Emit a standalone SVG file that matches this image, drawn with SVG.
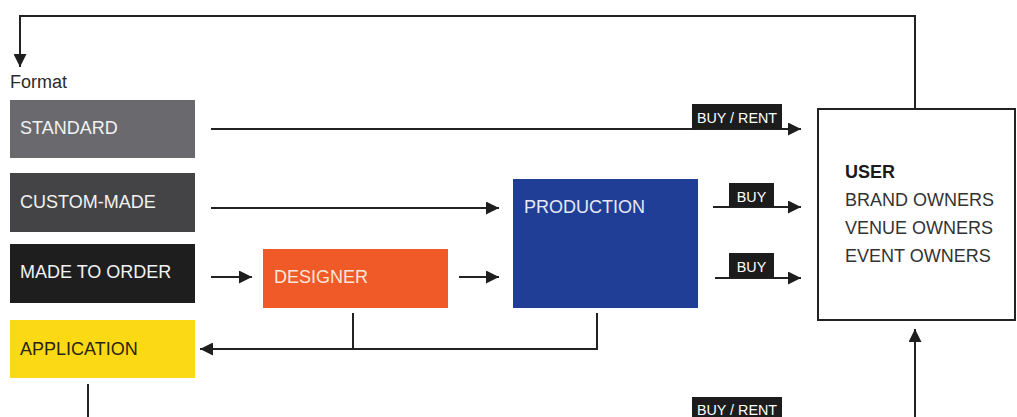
<svg xmlns="http://www.w3.org/2000/svg" width="1017" height="417" viewBox="0 0 1017 417">
  <defs>
    <marker id="arrow" viewBox="0 0 13 13" refX="13" refY="6.5" markerWidth="13" markerHeight="13" markerUnits="userSpaceOnUse" orient="auto">
      <path d="M0,0 L13,6.5 L0,13 z" fill="#1e1e1e"/>
    </marker>
    <style>
      text { font-family: "Liberation Sans", Arial, sans-serif; }
      .box-label { font-size: 18px; fill: #f2f2f2; }
      .user-text { font-size: 18px; fill: #333333; }
      .tag { fill: #1c1c1c; }
      .tag-text { font-size: 14.3px; fill: #ffffff; text-anchor: middle; }
      .conn { fill: none; stroke: #222222; stroke-width: 2; }
      .conn-arrow { fill: none; stroke: #222222; stroke-width: 2; marker-end: url(#arrow); }
    </style>
  </defs>

  <rect width="1017" height="417" fill="#ffffff"/>

  <text x="10" y="88" style="font-size:18px; fill:#2a2a2a">Format</text>

  <g id="standard">
    <rect x="10" y="100" width="185" height="58" fill="#6a6a6e"/>
    <text class="box-label" x="20" y="134">STANDARD</text>
  </g>
  <g id="custom-made">
    <rect x="10" y="173" width="185" height="59" fill="#444446"/>
    <text class="box-label" x="20" y="208">CUSTOM-MADE</text>
  </g>
  <g id="made-to-order">
    <rect x="10" y="244" width="185" height="59" fill="#1e1e1f"/>
    <text class="box-label" x="20" y="278">MADE TO ORDER</text>
  </g>
  <g id="application">
    <rect x="10" y="320" width="185" height="58" fill="#fbd914"/>
    <text class="box-label" x="20" y="355" style="fill:#2a2410">APPLICATION</text>
  </g>
  <g id="designer">
    <rect x="263" y="249" width="185" height="59" fill="#f05a28"/>
    <text class="box-label" x="274" y="283" style="fill:#fde6d8">DESIGNER</text>
  </g>
  <g id="production">
    <rect x="513" y="179" width="185" height="129" fill="#213e96"/>
    <text class="box-label" x="524" y="213" style="fill:#e6e9f4">PRODUCTION</text>
  </g>
  <g id="user">
    <rect x="818" y="109" width="197" height="211" fill="#ffffff" stroke="#222222" stroke-width="2"/>
    <text class="user-text" x="845" y="178" style="font-weight:bold; fill:#1a1a1a">USER</text>
    <text class="user-text" x="845" y="206">BRAND OWNERS</text>
    <text class="user-text" x="845" y="234">VENUE OWNERS</text>
    <text class="user-text" x="845" y="262">EVENT OWNERS</text>
  </g>

  <g id="connectors">
    <!-- loop from the user back to the format column -->
    <path class="conn-arrow" d="M915,109 V16 H20 V67"/>
    <!-- format routes -->
    <path class="conn-arrow" d="M211,129 H801"/>
    <path class="conn-arrow" d="M211,208 H499"/>
    <path class="conn-arrow" d="M211,277 H252"/>
    <path class="conn-arrow" d="M459,277 H499"/>
    <!-- production outputs -->
    <path class="conn-arrow" d="M713,207 H801"/>
    <path class="conn-arrow" d="M715,278 H801"/>
    <!-- designer / production back to application -->
    <path class="conn" d="M353,313 V349"/>
    <path class="conn-arrow" d="M597,313 V349 H200"/>
    <!-- application out, and up into the user -->
    <path class="conn" d="M88,384 V417"/>
    <path class="conn-arrow" d="M915,417 V329"/>

    <g id="tag-buy-rent-top">
      <rect class="tag" x="692" y="104" width="90" height="25"/>
      <text class="tag-text" x="737" y="122.5">BUY / RENT</text>
    </g>
    <g id="tag-buy-1">
      <rect class="tag" x="729" y="183" width="45" height="24"/>
      <text class="tag-text" x="751.5" y="201.5">BUY</text>
    </g>
    <g id="tag-buy-2">
      <rect class="tag" x="729" y="253" width="45" height="25"/>
      <text class="tag-text" x="751.5" y="271.5">BUY</text>
    </g>
    <g id="tag-buy-rent-bottom">
      <rect class="tag" x="692" y="397" width="90" height="25"/>
      <text class="tag-text" x="737" y="415">BUY / RENT</text>
    </g>
  </g>
</svg>
